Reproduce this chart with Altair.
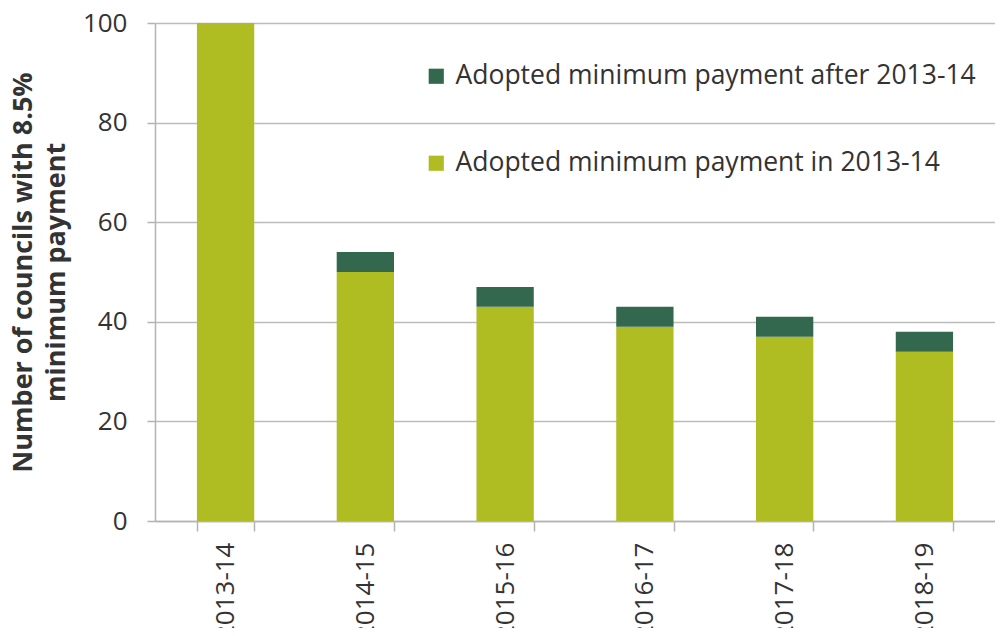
import altair as alt
import pandas as pd

years = ["2013-14", "2014-15", "2015-16", "2016-17", "2017-18", "2018-19"]
adopted_in = [100, 50, 43, 39, 37, 34]
adopted_after = [0, 4, 4, 4, 4, 4]

series_in = "Adopted minimum payment in 2013-14"
series_after = "Adopted minimum payment after 2013-14"

rows = []
for y, a, b in zip(years, adopted_in, adopted_after):
    rows.append({"year": y, "series": series_in, "value": a, "ord": 0})
    rows.append({"year": y, "series": series_after, "value": b, "ord": 1})
df = pd.DataFrame(rows)

FONT = "Open Sans"

chart = alt.Chart(df).mark_bar().encode(
    x=alt.X("year:N", sort=years, title=None,
            scale=alt.Scale(paddingInner=0.59, paddingOuter=0.3),
            axis=alt.Axis(labelAngle=-90, tickBand="extent", tickSize=10,
                          labelPadding=11, labelFontSize=26, labelColor="#333333",
                          labelFont=FONT, domainColor="#b3b3b3", tickColor="#b3b3b3",
                          domainWidth=1.5, tickWidth=1.5, labelBaseline="middle")),
    y=alt.Y("value:Q", stack="zero",
            title=["Number of councils with 8.5%", "minimum payment"],
            scale=alt.Scale(domain=[0, 100], nice=False),
            axis=alt.Axis(values=[0, 20, 40, 60, 80, 100], tickSize=8, labelPadding=20,
                          labelFontSize=26, labelColor="#333333", labelFont=FONT,
                          titleFont=FONT, titleFontSize=27, titleFontWeight="bold",
                          titleColor="#333333", titlePadding=12, titleLineHeight=33,
                          gridColor="#bcbcbc", gridWidth=1.5, domainColor="#b3b3b3",
                          tickColor="#b3b3b3", domainWidth=1.5, tickWidth=1.5)),
    color=alt.Color("series:N",
                    scale=alt.Scale(domain=[series_after, series_in],
                                    range=["#33684f", "#afbd22"]),
                    legend=alt.Legend(title=None, orient="none", legendX=268, legendY=40,
                                      symbolType="square", symbolSize=230,
                                      symbolStrokeWidth=0, labelFontSize=26.5,
                                      labelFont=FONT, labelColor="#333333",
                                      rowPadding=60, labelOffset=6, labelLimit=700)),
    order=alt.Order("ord:Q"),
).properties(
    width=840, height=498,
    autosize=alt.AutoSizeParams(type="none"),
    padding={"left": 147, "top": 15, "right": 0, "bottom": 107},
).configure_view(stroke=None)

chart.save("out.html", embed_options={"renderer": "svg", "actions": False})
